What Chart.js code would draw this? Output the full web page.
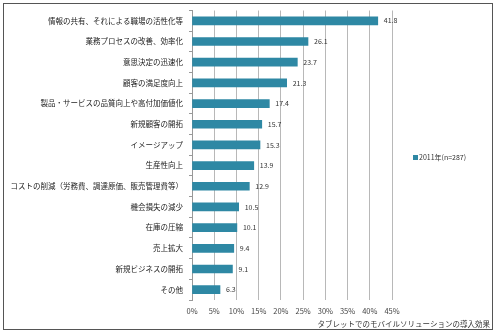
<!DOCTYPE html>
<html>
<head>
<meta charset="utf-8">
<script src="https://cdn.jsdelivr.net/npm/chart.js@4"></script>
<style>
  body { margin: 0; background: #fff; }
  #wrap { position: relative; width: 500px; height: 335px; }
  #frame { position: absolute; left: 3px; top: 3px; width: 490px; height: 327px; border: 1px solid #555; box-sizing: border-box; pointer-events: none; }
</style>
</head>
<body>
<div id="wrap">
  <canvas id="chart" width="500" height="335"></canvas>
  <div id="frame"></div>
</div>
<script>
// categories and values
const categories = [
  "情報の共有、それによる職場の活性化等",
  "業務プロセスの改善、効率化",
  "意思決定の迅速化",
  "顧客の満足度向上",
  "製品・サービスの品質向上や高付加価値化",
  "新規顧客の開拓",
  "イメージアップ",
  "生産性向上",
  "コストの削減（労務費、調達原価、販売管理費等）",
  "機会損失の減少",
  "在庫の圧縮",
  "売上拡大",
  "新規ビジネスの開拓",
  "その他",
];
const values = [41.8, 26.1, 23.7, 21.3, 17.4, 15.7, 15.3, 13.9, 12.9, 10.5, 10.1, 9.4, 9.1, 6.3];
const seriesName = "2011年(n=287)";
const axisTitle = "タブレットでのモバイルソリューションの導入効果";

const barColor = "#2e88a4";
const font = "'Noto Sans CJK JP', 'Noto Sans', sans-serif";

// value labels at the end of each bar
const valueLabels = {
  id: "valueLabels",
  afterDatasetsDraw(chart) {
    const ctx = chart.ctx;
    const meta = chart.getDatasetMeta(0);
    ctx.save();
    ctx.font = "7px " + font;
    ctx.fillStyle = "#333";
    ctx.textBaseline = "middle";
    meta.data.forEach((bar, i) => {
      ctx.fillText(values[i].toFixed(1), bar.x + 6, bar.y);
    });
    ctx.restore();
  },
};

// legend box and the axis title in the empty right part
const extras = {
  id: "extras",
  afterDraw(chart) {
    const ctx = chart.ctx;
    ctx.save();
    ctx.fillStyle = barColor;
    ctx.fillRect(413, 155, 5, 5);
    ctx.fillStyle = "#333";
    ctx.font = "7px " + font;
    ctx.textBaseline = "middle";
    ctx.fillText(seriesName, 419, 157);
    ctx.font = "7.5px " + font;
    ctx.textAlign = "right";
    ctx.fillText(axisTitle, 490, 324);
    ctx.restore();
  },
};

new Chart(document.getElementById("chart"), {
  type: "bar",
  data: {
    labels: categories,
    datasets: [
      {
        label: seriesName,
        data: values,
        backgroundColor: barColor,
        barThickness: 8,
      },
    ],
  },
  options: {
    indexAxis: "y",
    responsive: false,
    animation: false,
    layout: { padding: { top: 4, right: 108, left: 0, bottom: 0 } },
    plugins: {
      legend: { display: false },
      tooltip: { enabled: false },
    },
    scales: {
      x: {
        min: 0,
        max: 45,
        ticks: {
          stepSize: 5,
          callback: (v) => v + "%",
          font: { size: 7.5, family: font },
          color: "#444",
          padding: 7,
        },
        grid: { color: "#b8b8b8", drawTicks: false },
        border: { display: false },
        afterFit(scale) {
          scale.height = 35;
        },
      },
      y: {
        ticks: {
          font: { size: 7.5, family: font },
          color: "#222",
          padding: 6,
          autoSkip: false,
        },
        grid: { drawOnChartArea: false, tickLength: 3, color: "#999", offset: true },
        border: { display: true, color: "#999" },
        afterFit(scale) {
          scale.width = 192;
        },
      },
    },
  },
  plugins: [valueLabels, extras],
});
</script>
</body>
</html>
